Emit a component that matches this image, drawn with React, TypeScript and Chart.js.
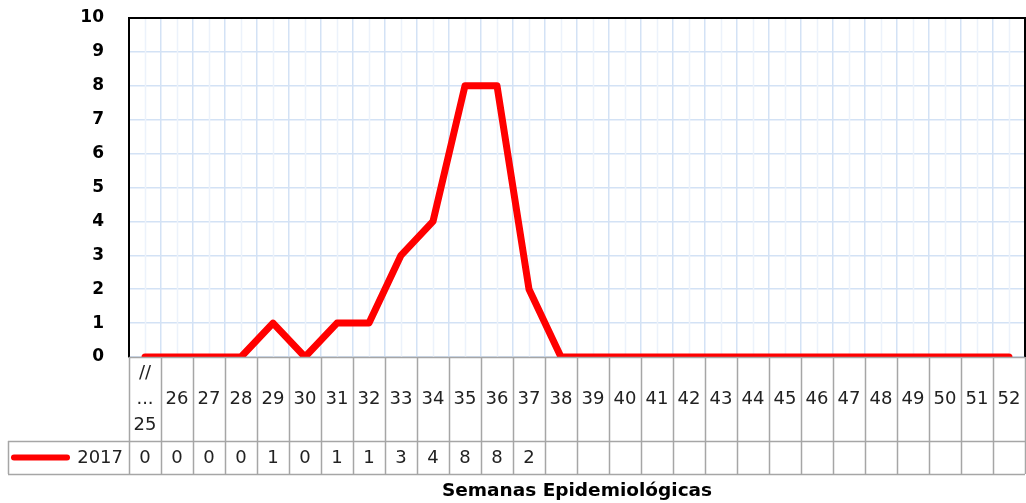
import React, { useEffect, useRef } from "react";
import { Chart, registerables } from "chart.js";

Chart.register(...registerables);

const weeks: string[][] = [
  ["//", "...", "25"], ["26"], ["27"], ["28"], ["29"], ["30"], ["31"], ["32"], ["33"], ["34"],
  ["35"], ["36"], ["37"], ["38"], ["39"], ["40"], ["41"], ["42"], ["43"], ["44"], ["45"],
  ["46"], ["47"], ["48"], ["49"], ["50"], ["51"], ["52"],
];
const cases2017: number[] = [0, 0, 0, 0, 1, 0, 1, 1, 3, 4, 8, 8, 2, 0, 0, 0, 0, 0, 0, 0, 0, 0, 0, 0, 0, 0, 0, 0];
const tableValues: (number | null)[] = [0, 0, 0, 0, 1, 0, 1, 1, 3, 4, 8, 8, 2, null, null, null, null, null, null, null, null, null, null, null, null, null, null, null];
const seriesLabel = "2017";
const xTitle = "Semanas Epidemiológicas";
const yTicks: number[] = [0, 1, 2, 3, 4, 5, 6, 7, 8, 9, 10];

const RED = "#FF0000";
const MAJOR = "#D3E2F5";
const MINOR = "#ECF2FB";
const TABLE = "#A6A6A6";
const LABEL_ROW_H = 84;
const DATA_ROW_H = 33;
const LEGEND_LEFT = 8;

const tablePlugin = {
  id: "tablePlugin",
  beforeDatasetsDraw(chart: any) {
    const { ctx, chartArea: ca } = chart;
    const xs = chart.scales.x;
    ctx.save();
    ctx.strokeStyle = MINOR;
    ctx.lineWidth = 1.5;
    for (let i = 0; i < weeks.length; i++) {
      const x = Math.round(xs.getPixelForValue(i)) + 0.5;
      ctx.beginPath();
      ctx.moveTo(x, ca.top);
      ctx.lineTo(x, ca.bottom);
      ctx.stroke();
    }
    ctx.restore();
  },
  afterDraw(chart: any) {
    const { ctx, chartArea: ca } = chart;
    const xs = chart.scales.x;
    const n = weeks.length;
    const step = xs.getPixelForValue(1) - xs.getPixelForValue(0);
    const top = ca.bottom;
    const mid = top + LABEL_ROW_H;
    const bot = mid + DATA_ROW_H;
    ctx.save();
    // black frame top / right
    ctx.strokeStyle = "#000";
    ctx.lineWidth = 2;
    ctx.beginPath();
    ctx.moveTo(ca.left, ca.top);
    ctx.lineTo(ca.right, ca.top);
    ctx.lineTo(ca.right, ca.bottom);
    ctx.stroke();

    // table lines
    ctx.strokeStyle = TABLE;
    ctx.lineWidth = 1.5;
    ctx.beginPath();
    for (let i = 0; i <= n; i++) {
      const x = Math.round(xs.getPixelForValue(i) - step / 2) + 0.5;
      ctx.moveTo(x, top);
      ctx.lineTo(x, bot);
    }
    ctx.moveTo(ca.left, top + 0.5);
    ctx.lineTo(ca.right, top + 0.5);
    ctx.moveTo(LEGEND_LEFT, mid + 0.5);
    ctx.lineTo(ca.right, mid + 0.5);
    ctx.moveTo(LEGEND_LEFT, bot + 0.5);
    ctx.lineTo(ca.right, bot + 0.5);
    ctx.moveTo(LEGEND_LEFT + 0.5, mid);
    ctx.lineTo(LEGEND_LEFT + 0.5, bot);
    ctx.stroke();

    // labels
    ctx.fillStyle = "#222";
    ctx.font = "18px 'DejaVu Sans'";
    ctx.textAlign = "center";
    ctx.textBaseline = "middle";
    const labelMid = top + LABEL_ROW_H / 2;
    for (let i = 0; i < n; i++) {
      const x = xs.getPixelForValue(i);
      const lines = weeks[i];
      const lh = 26;
      const y0 = labelMid - ((lines.length - 1) * lh) / 2;
      lines.forEach((t, k) => ctx.fillText(t, x, y0 + k * lh));
      const v = tableValues[i];
      if (v !== null && v !== undefined) ctx.fillText(String(v), x, mid + DATA_ROW_H / 2 + 1);
    }
    // legend
    const ly = mid + DATA_ROW_H / 2;
    ctx.strokeStyle = RED;
    ctx.lineWidth = 6;
    ctx.lineCap = "round";
    ctx.beginPath();
    ctx.moveTo(LEGEND_LEFT + 6, ly);
    ctx.lineTo(LEGEND_LEFT + 59, ly);
    ctx.stroke();
    ctx.textAlign = "right";
    ctx.fillText(seriesLabel, ca.left - 6, ly + 1);

    // title
    ctx.font = "bold 18.5px 'DejaVu Sans'";
    ctx.textAlign = "center";
    ctx.fillStyle = "#000";
    ctx.fillText(xTitle, (ca.left + ca.right) / 2, bot + 17);
    ctx.restore();
  },
};

export default function App() {
  const ref = useRef<HTMLCanvasElement | null>(null);
  useEffect(() => {
    if (!ref.current) return;
    const chart = new Chart(ref.current, {
      type: "line",
      data: {
        labels: weeks.map((w) => w.join(" ")),
        datasets: [
          {
            label: seriesLabel,
            data: cases2017,
            borderColor: RED,
            backgroundColor: RED,
            borderWidth: 7,
            pointRadius: 0,
            tension: 0,
            borderCapStyle: "round",
            borderJoinStyle: "round",
          },
        ],
      },
      options: {
        animation: false,
        responsive: true,
        maintainAspectRatio: false,
        layout: { padding: { left: 0, top: 18, right: 1, bottom: 146 } },
        plugins: { legend: { display: false }, tooltip: { enabled: false } },
        scales: {
          x: {
            offset: true,
            grid: { offset: true, color: MAJOR, lineWidth: 1.5, drawTicks: false },
            border: { display: false },
            ticks: { display: false },
          },
          y: {
            min: 0,
            max: 10,
            afterFit: (s: any) => {
              s.width = 129;
              s.paddingTop = 0;
              s.paddingBottom = 0;
            },
            afterBuildTicks: (s: any) => {
              s.ticks = yTicks.map((v) => ({ value: v }));
            },
            grid: { color: MAJOR, lineWidth: 1.5, drawTicks: false },
            border: { display: true, color: "#000", width: 2 },
            ticks: {
              padding: 25,
              color: "#000",
              font: { family: "'DejaVu Sans'", size: 17, weight: "bold" },
            },
          },
        },
      },
      plugins: [tablePlugin],
    });
    return () => chart.destroy();
  }, []);
  return (
    <div style={{ position: "fixed", left: 0, top: 0, width: 1026, height: 503, background: "#fff" }}>
      <canvas ref={ref} />
    </div>
  );
}
